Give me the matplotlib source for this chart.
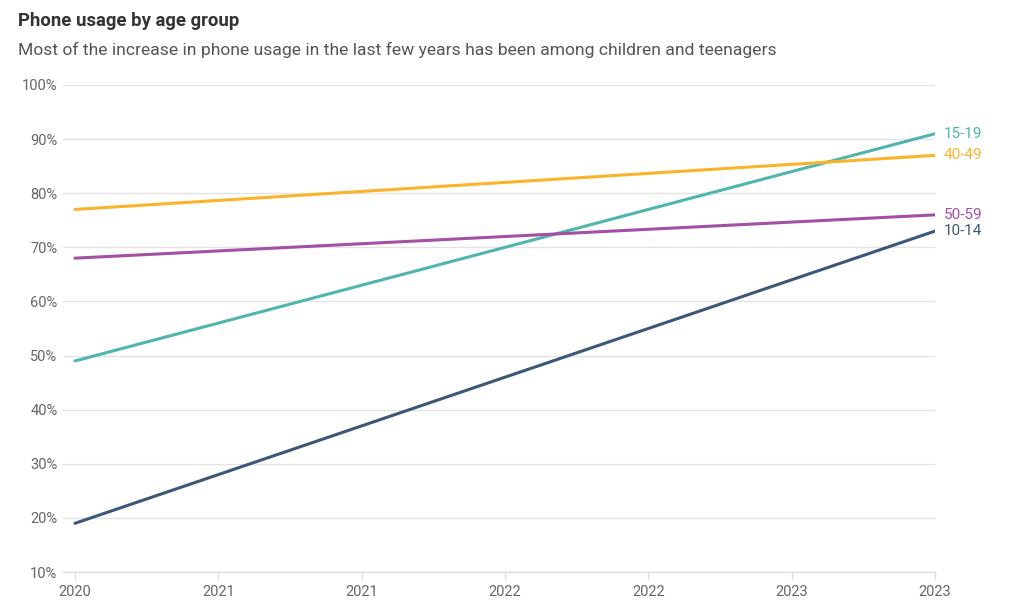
import matplotlib.pyplot as plt

plt.rcParams['font.family'] = ['Roboto', 'DejaVu Sans']

years = [2020, 2023]
series = {
    '10-14': [19, 73],
    '15-19': [49, 91],
    '40-49': [77, 87],
    '50-59': [68, 76],
}
colors = {
    '10-14': '#3b5878',
    '15-19': '#4fb5ad',
    '40-49': '#fbb429',
    '50-59': '#a24fa6',
}
x_ticks = [2020, 2020.5, 2021, 2021.5, 2022, 2022.5, 2023]
x_labels = ['2020', '2021', '2021', '2022', '2022', '2023', '2023']
y_ticks = [10, 20, 30, 40, 50, 60, 70, 80, 90, 100]

fig = plt.figure(figsize=(10.24, 6.14), dpi=100)
ax = fig.add_axes([63 / 1024, 1 - 572 / 614, (935 - 63) / 1024, (572 - 85) / 614])

for name, vals in series.items():
    ax.plot(years, vals, color=colors[name], lw=2.2, solid_capstyle='round', zorder=3)
    ax.annotate(name, (years[-1], vals[-1]), xytext=(6, 0), textcoords='offset points',
                color=colors[name], fontsize=11, va='center', ha='left', annotation_clip=False)

ax.set_xlim(2020 - 12 / 860 * 3, 2023)
ax.set_ylim(10, 100)
ax.set_yticks(y_ticks)
ax.set_yticklabels([f'{v}%' for v in y_ticks])
ax.set_xticks(x_ticks)
ax.set_xticklabels(x_labels)
ax.grid(axis='y', color='#e3e3e3', lw=1)
ax.set_axisbelow(True)
for s in ['top', 'right', 'left']:
    ax.spines[s].set_visible(False)
ax.spines['bottom'].set_color('#dddddd')
ax.spines['bottom'].set_linewidth(1)
ax.tick_params(axis='y', length=0, pad=4, labelsize=10.5, labelcolor='#666666')
ax.tick_params(axis='x', length=6, color='#dddddd', width=1, pad=3, labelsize=10.5, labelcolor='#666666')

fig.text(18 / 1024, 1 - 21 / 614, 'Phone usage by age group', fontsize=13.3, fontweight='semibold',
         color='#333333', va='center', ha='left')
fig.text(18 / 1024, 1 - 50 / 614,
         'Most of the increase in phone usage in the last few years has been among children and teenagers',
         fontsize=12.6, color='#555555', va='center', ha='left')

fig.savefig('out.png', dpi=100)
